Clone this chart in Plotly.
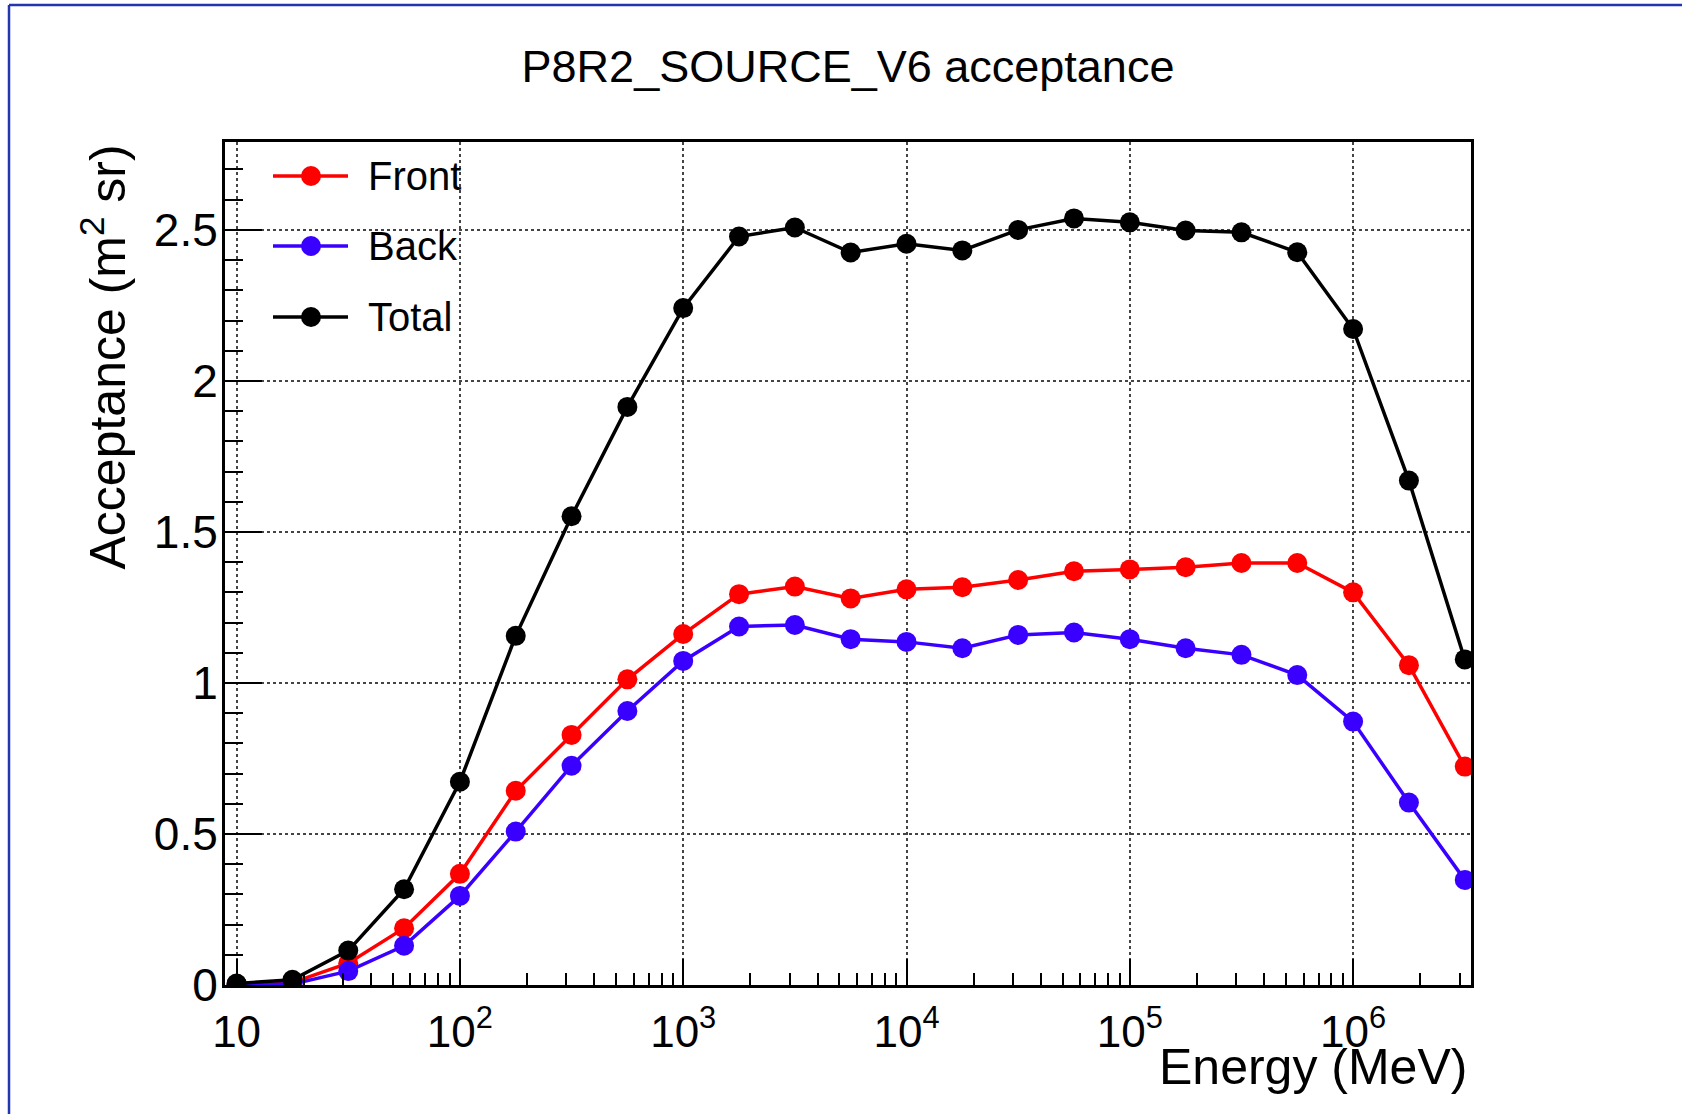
import plotly.graph_objects as go

# ---------------- data ----------------
energy_mev = [10, 17.78, 31.62, 56.23, 100, 177.8, 316.2, 562.3, 1000, 1778,
              3162, 5623, 10000, 17783, 31623, 56234, 100000, 177828, 316228,
              562341, 1000000, 1778279, 3162278]
front = [0.003, 0.008, 0.072, 0.188, 0.368, 0.643, 0.828, 1.012, 1.162, 1.294,
         1.319, 1.280, 1.310, 1.317, 1.341, 1.370, 1.376, 1.383, 1.397, 1.397,
         1.300, 1.059, 0.723]
back = [0.002, 0.003, 0.046, 0.130, 0.295, 0.508, 0.726, 0.907, 1.073, 1.187,
        1.192, 1.145, 1.136, 1.115, 1.159, 1.167, 1.145, 1.115, 1.093, 1.026,
        0.872, 0.604, 0.348]
total = [0.005, 0.017, 0.114, 0.317, 0.673, 1.156, 1.552, 1.914, 2.241, 2.478,
         2.508, 2.425, 2.454, 2.432, 2.500, 2.538, 2.525, 2.498, 2.492, 2.426,
         2.172, 1.670, 1.078]

series_names = ["Front", "Back", "Total"]
series_colors = ["#ff0000", "#3a00ff", "#000000"]

x_tick_vals = [10, 100, 1000, 10000, 100000, 1000000]
x_tick_text = ["10", "10<sup>2</sup>", "10<sup>3</sup>", "10<sup>4</sup>",
               "10<sup>5</sup>", "10<sup>6</sup>"]
x_minor_vals = [m * d for d in [10, 100, 1000, 10000, 100000, 1000000]
                for m in range(2, 10) if m * d <= 3.3e6]
y_tick_vals = [0, 0.5, 1, 1.5, 2, 2.5]
y_tick_text = ["0", "0.5", "1", "1.5", "2", "2.5"]

FONT = "Liberation Sans, Arial, Helvetica, sans-serif"

# ---------------- figure ----------------
fig = go.Figure()
for name, vals, col in zip(series_names, [front, back, total], series_colors):
    fig.add_trace(go.Scatter(
        x=energy_mev, y=vals, name=name, mode="lines+markers",
        line=dict(color=col, width=3.5),
        marker=dict(color=col, size=20, symbol="circle", line=dict(width=0)),
        showlegend=False,
    ))

W, H = 1682, 1114
L, R, T, B = 225, 211, 142, 129
pw, ph = W - L - R, H - T - B


def px_x(px):
    return (px - L) / pw


def px_y(py):
    return (H - B - py) / ph


fig.update_layout(
    width=W, height=H, autosize=False,
    margin=dict(l=L, r=R, t=T, b=B, pad=0),
    paper_bgcolor="white", plot_bgcolor="white",
    font=dict(family=FONT, color="black"),
    title=dict(text="P8R2_SOURCE_V6 acceptance", x=0.5, xref="paper",
               xanchor="center", y=1 - 66 / H, yref="container",
               yanchor="middle", font=dict(size=45, family=FONT, color="black")),
    showlegend=False,
)

fig.update_xaxes(
    type="log", range=[0.948, 6.528],
    showline=True, linecolor="black", linewidth=3, mirror=True,
    ticks="inside", ticklen=26, tickwidth=2, tickcolor="black",
    tickmode="array", tickvals=x_tick_vals, ticktext=x_tick_text,
    tickfont=dict(size=44, family=FONT, color="black"),
    ticklabelstandoff=6,
    minor=dict(tickmode="array", tickvals=x_minor_vals, ticks="inside",
               ticklen=12, tickwidth=2, tickcolor="black", showgrid=False),
    showgrid=True, gridcolor="#444444", gridwidth=2, griddash="dot",
    zeroline=False,
)
fig.update_yaxes(
    range=[0, 2.791],
    showline=True, linecolor="black", linewidth=3, mirror=True,
    ticks="inside", ticklen=37, tickwidth=2, tickcolor="black",
    tickmode="array", tickvals=y_tick_vals, ticktext=y_tick_text,
    tickfont=dict(size=46, family=FONT, color="black"),
    ticklabelstandoff=-5,
    minor=dict(dtick=0.1, ticks="inside", ticklen=18, tickwidth=2,
               tickcolor="black", showgrid=False),
    showgrid=True, gridcolor="#444444", gridwidth=2, griddash="dot",
    zeroline=False,
)

# axis titles (ROOT style: right-aligned to axis ends)
fig.add_annotation(text="Energy (MeV)", xref="paper", yref="paper",
                   x=px_x(1469), y=px_y(1067), xanchor="right", yanchor="middle",
                   showarrow=False, font=dict(size=50, family=FONT, color="black"))
fig.add_annotation(text="Acceptance (m<sup>2</sup> sr)", xref="paper", yref="paper",
                   x=px_x(103), y=px_y(143), xanchor="center", yanchor="top",
                   textangle=-90, showarrow=False,
                   font=dict(size=50, family=FONT, color="black"))

# ROOT-style legend box entries (line + marker sample, then label)
legend_rows_y = [176, 246, 317]
for name, col, ry in zip(series_names, series_colors, legend_rows_y):
    fig.add_shape(type="line", xref="paper", yref="paper",
                  x0=px_x(273), x1=px_x(348), y0=px_y(ry), y1=px_y(ry),
                  line=dict(color=col, width=3.5), layer="above")
    fig.add_shape(type="circle", xref="paper", yref="paper",
                  xsizemode="pixel", ysizemode="pixel",
                  xanchor=px_x(311), yanchor=px_y(ry),
                  x0=-10, x1=10, y0=-10, y1=10,
                  fillcolor=col, line=dict(color=col, width=0), layer="above")
    fig.add_annotation(text=name, xref="paper", yref="paper",
                       x=px_x(366), y=px_y(ry), xanchor="left", yanchor="middle",
                       showarrow=False,
                       font=dict(size=40, family=FONT, color="black"))

# canvas frame edges (blue, top and left)
fig.add_shape(type="line", xref="paper", yref="paper",
              x0=px_x(9), x1=px_x(W), y0=px_y(5), y1=px_y(5),
              line=dict(color="#2236b0", width=2.5), layer="above")
fig.add_shape(type="line", xref="paper", yref="paper",
              x0=px_x(9), x1=px_x(9), y0=px_y(5), y1=px_y(H),
              line=dict(color="#2236b0", width=2.5), layer="above")

fig.write_html("out.html")
